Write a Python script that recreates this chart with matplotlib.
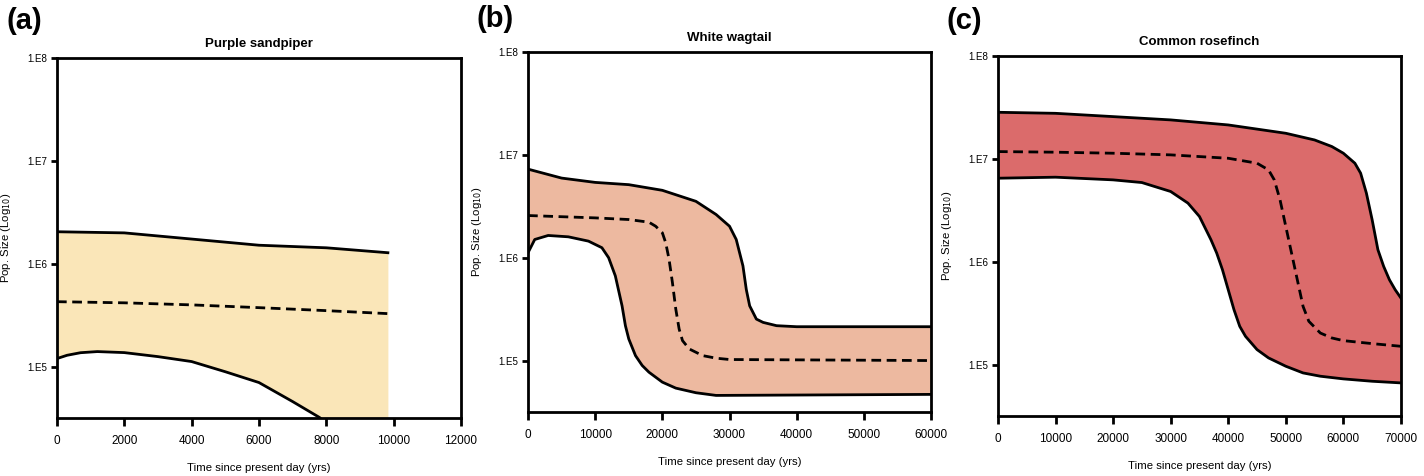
import numpy as np
import matplotlib
matplotlib.use("Agg")
import matplotlib.pyplot as plt

plt.rcParams['font.family'] = ['Liberation Sans', 'DejaVu Sans']

# ---------------- data (log10 population size) ----------------
# (a) Purple sandpiper
a_x_up = [0, 2000, 4000, 6000, 8000, 9830]
a_up = [6.311, 6.30, 6.24, 6.18, 6.155, 6.107]
a_x_med = [0, 2000, 4000, 6000, 8000, 9830]
a_med = [5.631, 5.62, 5.60, 5.573, 5.544, 5.515]
a_x_lo = [0, 300, 700, 1200, 2000, 3000, 4000, 5000, 6000, 7000, 7800, 8500, 9830]
a_lo = [5.078, 5.11, 5.135, 5.146, 5.136, 5.097, 5.049, 4.95, 4.845, 4.66, 4.505, 4.3, 4.0]

# (b) White wagtail
b_x_up = [0, 5000, 10000, 15000, 20000, 25000, 28000, 30000, 31000, 32000, 32500,
          33000, 34000, 35000, 37000, 40000, 60000]
b_up = [6.861, 6.774, 6.732, 6.71, 6.655, 6.548, 6.42, 6.306, 6.177, 5.92, 5.69,
        5.532, 5.403, 5.371, 5.339, 5.329, 5.329]
b_x_med = [0, 10000, 15000, 18000, 19000, 20000, 20500, 21000, 21500, 22000, 22500,
           23000, 24000, 26000, 28000, 30000, 60000]
b_med = [6.41, 6.387, 6.371, 6.345, 6.306, 6.242, 6.145, 5.984, 5.758, 5.5, 5.306,
         5.194, 5.113, 5.048, 5.023, 5.01, 5.0]
b_x_lo = [0, 1000, 3000, 6000, 9000, 11000, 12000, 13000, 14000, 14500, 15000, 16000,
          17000, 18000, 20000, 22000, 25000, 28000, 60000]
b_lo = [6.048, 6.177, 6.216, 6.203, 6.161, 6.097, 6.0, 5.823, 5.532, 5.339, 5.21, 5.048,
        4.952, 4.887, 4.79, 4.732, 4.687, 4.661, 4.671]

# (c) Common rosefinch
c_x_up = [0, 10000, 20000, 30000, 40000, 50000, 55000, 58000, 60000, 62000, 63000,
          64000, 65000, 66000, 67000, 68000, 69000, 70000]
c_up = [7.453, 7.443, 7.411, 7.379, 7.33, 7.249, 7.184, 7.12, 7.055, 6.958, 6.861,
        6.667, 6.408, 6.117, 5.955, 5.825, 5.728, 5.647]
c_x_med = [0, 10000, 20000, 30000, 40000, 45000, 47000, 48000, 49000, 50000, 51000,
           52000, 53000, 54000, 56000, 58000, 60000, 65000, 70000]
c_med = [7.071, 7.065, 7.055, 7.039, 7.006, 6.958, 6.893, 6.796, 6.602, 6.343, 6.084,
         5.825, 5.566, 5.421, 5.307, 5.259, 5.233, 5.204, 5.178]
c_x_lo = [0, 10000, 20000, 25000, 30000, 33000, 35000, 37000, 38000, 39000, 40000,
          41000, 42000, 43000, 45000, 47000, 50000, 53000, 56000, 60000, 65000, 70000]
c_lo = [6.812, 6.822, 6.796, 6.77, 6.683, 6.57, 6.44, 6.214, 6.084, 5.922, 5.728,
        5.534, 5.372, 5.275, 5.146, 5.065, 4.984, 4.919, 4.887, 4.861, 4.838, 4.822]

panels = [
    dict(letter='(a)', title='Purple sandpiper', xu=a_x_up, up=a_up, xm=a_x_med, med=a_med,
         xl=a_x_lo, lo=a_lo, color='#FAE6B8', xmax=12000, xticks=np.arange(0, 12001, 2000),
         rect=[0.040, 0.1218, 0.2837, 0.7563], letter_xy=(7, 21)),
    dict(letter='(b)', title='White wagtail', xu=b_x_up, up=b_up, xm=b_x_med, med=b_med,
         xl=b_x_lo, lo=b_lo, color='#EDB9A0', xmax=60000, xticks=np.arange(0, 60001, 10000),
         rect=[0.3708, 0.1345, 0.2830, 0.7563], letter_xy=(476, 19)),
    dict(letter='(c)', title='Common rosefinch', xu=c_x_up, up=c_up, xm=c_x_med, med=c_med,
         xl=c_x_lo, lo=c_lo, color='#DB6B6B', xmax=70000, xticks=np.arange(0, 70001, 10000),
         rect=[0.7008, 0.1260, 0.2830, 0.7563], letter_xy=(947, 21)),
]

ytick_vals = [5, 6, 7, 8]
ytick_labels = ['1.E5', '1.E6', '1.E7', '1.E8']

W, H = 1424, 476
fig = plt.figure(figsize=(W / 100, H / 100), dpi=100)

for p in panels:
    ax = fig.add_axes(p['rect'])
    xs = np.union1d(p['xu'], p['xl'])
    xs = xs[xs <= max(p['xu'])]
    up_i = np.interp(xs, p['xu'], p['up'])
    lo_i = np.interp(xs, p['xl'], p['lo'])
    ax.fill_between(xs, 10 ** lo_i, 10 ** up_i, color=p['color'], lw=0, zorder=1)
    ax.plot(p['xu'], 10 ** np.array(p['up']), color='black', lw=2.0, zorder=3)
    ax.plot(p['xl'], 10 ** np.array(p['lo']), color='black', lw=2.0, zorder=3)
    ax.plot(p['xm'], 10 ** np.array(p['med']), color='black', lw=2.0,
            linestyle=(0, (3.5, 2.0)), zorder=3)
    ax.set_yscale('log')
    ax.set_ylim(10 ** 4.5, 1e8)
    ax.set_xlim(0, p['xmax'])
    ax.set_yticks([10 ** v for v in ytick_vals])
    ax.set_yticklabels(ytick_labels)
    ax.yaxis.set_minor_locator(matplotlib.ticker.NullLocator())
    ax.set_xticks(p['xticks'])
    ax.set_xticklabels([str(int(v)) for v in p['xticks']])
    for s in ax.spines.values():
        s.set_linewidth(2.0)
    ax.tick_params(axis='y', length=4, width=2, labelsize=7, pad=3, direction='out')
    ax.tick_params(axis='x', length=6, width=2, labelsize=8.5, pad=6, direction='out')
    ax.set_ylabel('Pop. Size (Log$_{10}$)', fontsize=8.2, labelpad=10)
    ax.set_xlabel('Time since present day (yrs)', fontsize=8.2, labelpad=12)
    ax.set_title(p['title'], fontsize=9.5, fontweight='bold', pad=8)
    lx, ly = p['letter_xy']
    fig.text(lx / W, 1 - ly / H, p['letter'], fontsize=21, fontweight='bold',
             ha='left', va='center')

fig.savefig('out.png', dpi=100)
